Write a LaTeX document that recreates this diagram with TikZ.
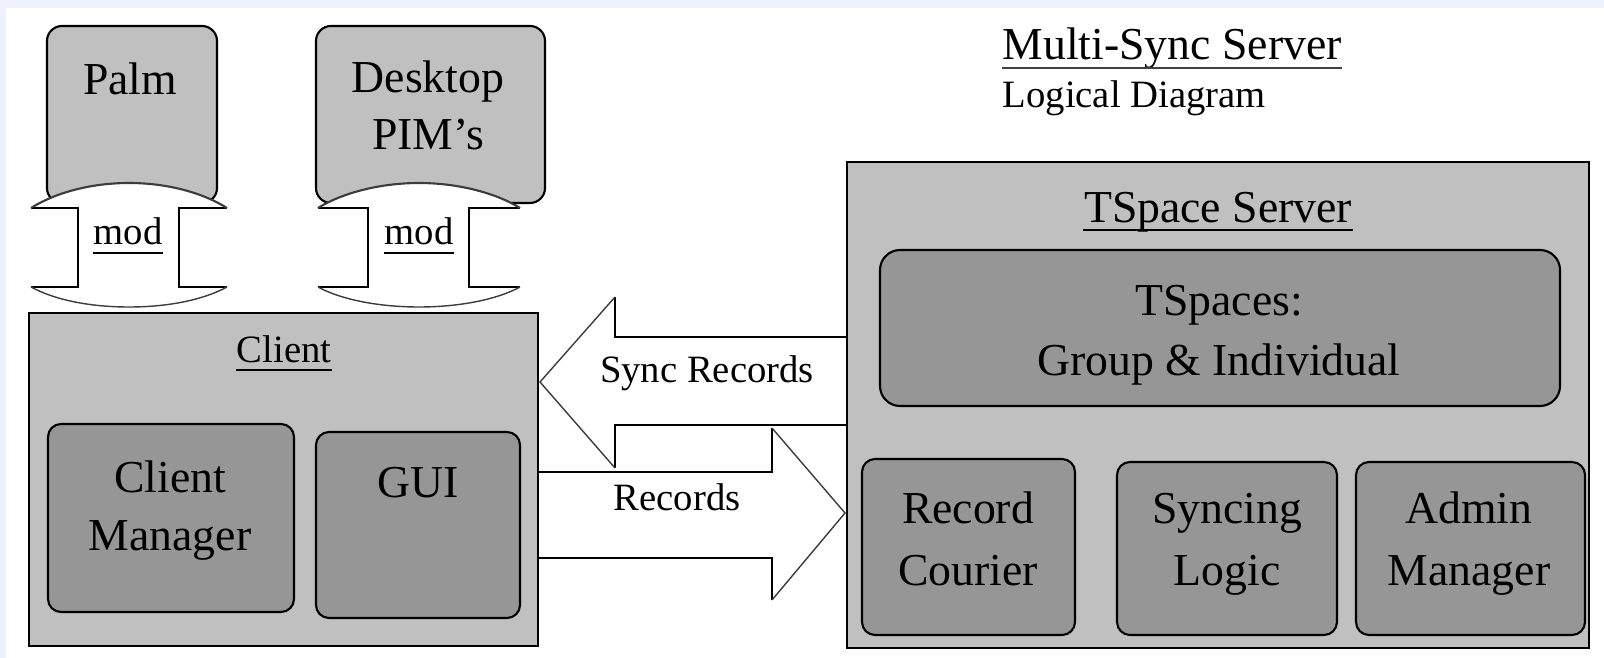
\documentclass[tikz,border=0pt]{standalone}
\usepackage{fontspec}
\setmainfont{Liberation Serif}
\definecolor{paneg}{RGB}{192,192,192}
\definecolor{partg}{RGB}{150,150,150}
\definecolor{edgeblue}{RGB}{238,242,254}
\definecolor{headgrey}{RGB}{60,60,60}
% box from its left, top, right and bottom edges (in picture units)
\newcommand\mkbox[6]{%
  \node[#1, minimum width={(#5-#3)*0.01cm}, minimum height={(#6-#4)*0.01cm}]
    (#2) at ({(#3+#5)/2},{(#4+#6)/2}) {};}
\begin{document}
\begin{tikzpicture}[x=0.01cm,y=-0.01cm,
  txtbig/.style={font=\fontsize{13}{15}\selectfont, inner sep=0pt, anchor=base},
  txtsmall/.style={font=\fontsize{11}{13}\selectfont, inner sep=0pt, anchor=base},
  outerbox/.style={draw=black, fill=paneg, line width=0.75pt, inner sep=0pt, outer sep=0pt},
  devbox/.style={outerbox, line width=0.6pt, rounded corners=0.15cm},
  partbox/.style={draw=black, fill=partg, line width=0.6pt, rounded corners=0.13cm, inner sep=0pt, outer sep=0pt},
  bigpart/.style={partbox, rounded corners=0.2cm},
  flowedge/.style={draw=black, line width=0.75pt},
  flowhead/.style={draw=headgrey, line width=0.4pt},
  uline/.style={draw=black, line width=0.5pt}
]
\useasboundingbox (0,0) rectangle (1604,658);
\fill[white] (0,0) rectangle (1604,658);
\fill[edgeblue] (0,0) rectangle (1604,8);
\fill[edgeblue] (0,0) rectangle (6,658);

% devices
\mkbox{devbox}{palm}{47}{26}{217}{203}
\mkbox{devbox}{desk}{316}{26}{545}{203}

% "mod" double arrows between devices and client
\fill[white] (31,208) .. controls (55,193) and (90,183) .. (129,183)
  .. controls (168,183) and (203,193) .. (227,208) -- (179,208) -- (179,287) -- (227,287)
  .. controls (203,300) and (168,307) .. (129,307) .. controls (90,307) and (55,300) .. (31,287)
  -- (78,287) -- (78,208) -- cycle;
\draw[flowedge] (31,208) -- (78,208) -- (78,287) -- (31,287);
\draw[flowedge] (227,208) -- (179,208) -- (179,287) -- (227,287);
\draw[flowhead, line width=0.6pt] (31,208) .. controls (55,193) and (90,183) .. (129,183)
  .. controls (168,183) and (203,193) .. (227,208);
\draw[flowhead] (31,287) .. controls (55,300) and (90,307) .. (129,307)
  .. controls (168,307) and (203,300) .. (227,287);

\fill[white] (318,208) .. controls (342,193) and (380,183) .. (419,183)
  .. controls (458,183) and (496,193) .. (520,208) -- (469,208) -- (469,287) -- (520,287)
  .. controls (496,300) and (458,307) .. (419,307) .. controls (380,307) and (342,300) .. (318,287)
  -- (368,287) -- (368,208) -- cycle;
\draw[flowedge] (318,208) -- (368,208) -- (368,287) -- (318,287);
\draw[flowedge] (520,208) -- (469,208) -- (469,287) -- (520,287);
\draw[flowhead, line width=0.6pt] (318,208) .. controls (342,193) and (380,183) .. (419,183)
  .. controls (458,183) and (496,193) .. (520,208);
\draw[flowhead] (318,287) .. controls (342,300) and (380,307) .. (419,307)
  .. controls (458,307) and (496,300) .. (520,287);

% block arrows between client and server
\coordinate (synctip) at (540,382);
\coordinate (syncend) at (847,381);
\coordinate (rectail) at (538,515);
\coordinate (rectip) at (845,513);
\fill[white] (synctip) -- (615,297) -- (615,337) -- (syncend |- 0,337) -- (syncend |- 0,425)
  -- (615,425) -- (615,468) -- cycle;
\draw[flowedge] (615,297) -- (615,337) -- (syncend |- 0,337);
\draw[flowedge] (syncend |- 0,425) -- (615,425) -- (615,468);
\draw[flowhead] (615,297) -- (synctip) -- (615,468);

\fill[white] (rectail |- 0,472) -- (772,472) -- (772,428) -- (rectip) -- (772,600) -- (772,558)
  -- (rectail |- 0,558) -- cycle;
\draw[flowedge] (rectail |- 0,472) -- (772,472) -- (772,428);
\draw[flowedge] (772,600) -- (772,558) -- (rectail |- 0,558);
\draw[flowhead] (772,428) -- (rectip) -- (772,600);

% client side
\mkbox{outerbox}{client}{29}{313}{538}{646}
\mkbox{partbox}{cmgr}{48}{424}{294}{612}
\mkbox{partbox}{gui}{316}{432}{520}{618}

% server side
\mkbox{outerbox}{server}{847}{162}{1589}{648}
\mkbox{bigpart}{tspaces}{880}{250}{1560}{406}
\mkbox{partbox}{courier}{862}{459}{1075}{635}
\mkbox{partbox}{synclogic}{1117}{462}{1337}{635}
\mkbox{partbox}{admin}{1356}{462}{1585}{635}

% texts
\node[txtbig] (palmtxt) at (130,95) {Palm};
\node[txtbig] (desktxt) at (428,93) {Desktop};
\node[txtbig] (pimtxt) at (428,150) {PIM's};
\node[txtsmall] (modone) at (128,245) {mod};
\node[txtsmall] (modtwo) at (419,245) {mod};
\draw[uline] ([yshift=-2.3pt]modone.base west) -- ([yshift=-2.3pt]modone.base east);
\draw[uline] ([yshift=-2.3pt]modtwo.base west) -- ([yshift=-2.3pt]modtwo.base east);

\node[txtsmall] (clienttitle) at (284,362) {Client};
\draw[uline] ([yshift=-2.3pt]clienttitle.base west) -- ([yshift=-2.3pt]clienttitle.base east);
\node[txtbig] (cmone) at (170,492) {Client};
\node[txtbig] (cmtwo) at (170,550) {Manager};
\node[txtbig] (guitxt) at (418,497) {GUI};

\node[txtbig, anchor=base west] (msync) at (1002,60) {Multi-Sync Server};
\draw[uline, draw=black!75] ([yshift=-2.3pt]msync.base west) -- ([yshift=-2.3pt]msync.base east);
\node[txtsmall, anchor=base west] (logical) at (1002,108) {Logical Diagram};

\node[txtbig] (tsserver) at (1218,223) {TSpace Server};
\draw[uline] ([yshift=-2pt]tsserver.base west) -- ([yshift=-2pt]tsserver.base east);
\node[txtbig] (tsone) at (1219,315) {TSpaces:};
\node[txtbig] (tstwo) at (1219,375) {Group \& Individual};

\node[txtbig] (rcone) at (968,523) {Record};
\node[txtbig] (rctwo) at (968,585) {Courier};
\node[txtbig] (slone) at (1227,523) {Syncing};
\node[txtbig] (sltwo) at (1227,585) {Logic};
\node[txtbig] (amone) at (1469,523) {Admin};
\node[txtbig] (amtwo) at (1469,585) {Manager};

\node[txtsmall] (synclabel) at (707,383) {Sync Records};
\node[txtsmall] (reclabel) at (677,510) {Records};
\end{tikzpicture}
\end{document}
